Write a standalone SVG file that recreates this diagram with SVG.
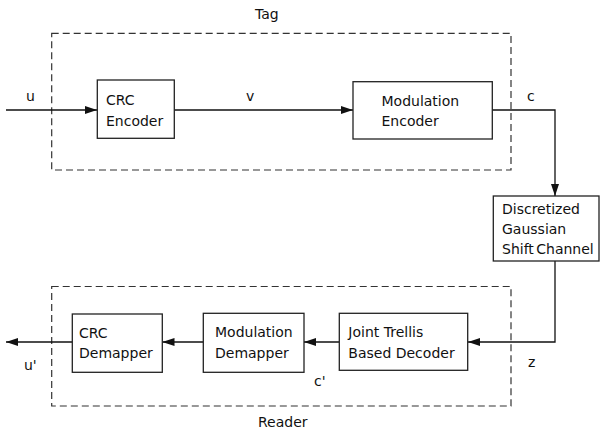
<svg xmlns="http://www.w3.org/2000/svg" width="608" height="435" viewBox="0 0 608 435">
<defs>
<style>
.box{fill:#fff;stroke:#222;stroke-width:1.3}
.grp{fill:none;stroke:#333;stroke-width:1.2;stroke-dasharray:7,4}
.ln{fill:none;stroke:#111;stroke-width:1.3}
text{font-family:"DejaVu Sans","Liberation Sans",sans-serif;font-size:14px;fill:#111}
</style>
<marker id="ah" viewBox="0 0 12 8" refX="12" refY="4" markerWidth="12" markerHeight="8" markerUnits="userSpaceOnUse" orient="auto">
<path d="M0,0 L12,4 L0,8 Z" fill="#111"/>
</marker>
</defs>
<rect width="608" height="435" fill="#fff"/>
<g id="tag">
<rect class="grp" x="51.7" y="33.3" width="459.3" height="136.7"/>
<text x="255" y="18.5">Tag</text>
</g>
<g id="reader">
<rect class="grp" x="51.7" y="286.5" width="459.3" height="119.5"/>
<text x="258" y="427">Reader</text>
</g>
<g id="connectors">
<path class="ln" d="M6,110 H97" marker-end="url(#ah)"/>
<path class="ln" d="M174,110 H353" marker-end="url(#ah)"/>
<path class="ln" d="M492,110 H555 V196" marker-end="url(#ah)"/>
<path class="ln" d="M555,261 V342 H468" marker-end="url(#ah)"/>
<path class="ln" d="M339,342 H304" marker-end="url(#ah)"/>
<path class="ln" d="M203,342 H162.5" marker-end="url(#ah)"/>
<path class="ln" d="M72,342 H6" marker-end="url(#ah)"/>
<text x="26" y="101">u</text>
<text x="246" y="101">v</text>
<text x="527" y="101">c</text>
<text x="528" y="367">z</text>
<text x="314" y="386">c'</text>
<text x="24" y="370">u'</text>
</g>
<g id="crc-encoder">
<rect class="box" x="97.3" y="80" width="77" height="58.3"/>
<text x="106" y="105">CRC</text>
<text x="106" y="125.5">Encoder</text>
</g>
<g id="modulation-encoder">
<rect class="box" x="353" y="81.7" width="139.3" height="57.3"/>
<text x="381.5" y="106">Modulation</text>
<text x="381.5" y="126">Encoder</text>
</g>
<g id="channel">
<rect class="box" x="493.3" y="196" width="105.7" height="65"/>
<text x="502" y="214">Discretized</text>
<text x="502" y="234">Gaussian</text>
<text x="502" y="254" word-spacing="-2">Shift Channel</text>
</g>
<g id="joint-trellis-decoder">
<rect class="box" x="339.3" y="313.3" width="128.4" height="57"/>
<text x="348.3" y="337">Joint Trellis</text>
<text x="348.3" y="357.5">Based Decoder</text>
</g>
<g id="modulation-demapper">
<rect class="box" x="203.3" y="313.3" width="100.7" height="59"/>
<text x="215" y="337">Modulation</text>
<text x="215" y="357.5">Demapper</text>
</g>
<g id="crc-demapper">
<rect class="box" x="72.3" y="314" width="90" height="58.3"/>
<text x="79" y="337.5">CRC</text>
<text x="79" y="357.5">Demapper</text>
</g>
</svg>
